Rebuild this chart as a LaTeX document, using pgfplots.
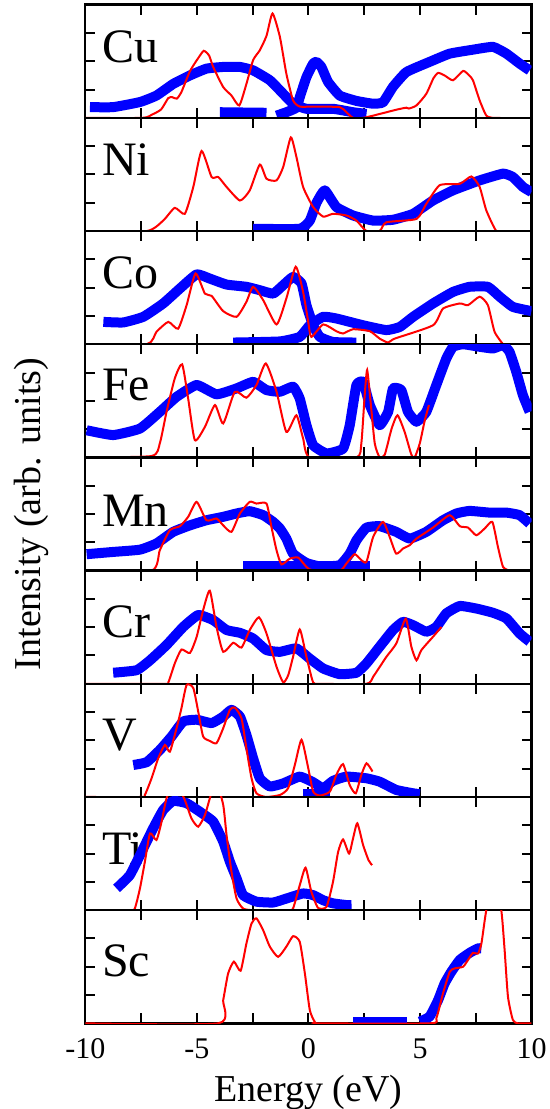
\documentclass[border=0pt]{standalone}
\usepackage{fontspec}
\setmainfont{Liberation Serif}
\usepackage{pgfplots}
\pgfplotsset{compat=1.18}
\usepgfplotslibrary{groupplots}
\tikzset{
 redl/.style={red, line width=1pt, smooth, tension=0.35, mark=none},
 bluel/.style={blue, line width=5pt, mark=none, line join=round, smooth, tension=0.25},
 lab/.style={anchor=base west, inner sep=0pt, font=\fontsize{24}{24}\selectfont},
}
\begin{document}
\begin{tikzpicture}
\begin{groupplot}[
 group style={group name=G, group size=1 by 9, vertical sep=0pt},
 width=223.2pt, height=56.6pt, scale only axis,
 xmin=-10, xmax=10, ymin=0, ymax=4,
 xtick={-10,-5,0,5,10}, minor xtick={-7.5,-2.5,2.5,7.5},
 xticklabels={},
 ytick={1,2,3}, yticklabels={},
 tick align=inside, xtick pos=both, ytick pos=both,
 major tick length=5pt, minor tick length=5pt,
 every tick/.style={black, line width=1pt},
 axis line style={line width=1.2pt},
 tick label style={font=\fontsize{15}{15}\selectfont},
 xticklabel style={yshift=-4pt},
 unbounded coords=jump,
]
% ---------------- Cu
\nextgroupplot
\node[lab] at (rel axis cs:0.037,0.488) {Cu};
\addplot[bluel] coordinates {(-9.79,0.38) (-8.75,0.38) (-7.55,0.56) (-6.81,0.79) (-6.06,1.2) (-5.31,1.5) (-4.57,1.74) (-3.82,1.8) (-3.07,1.8) (-2.48,1.68) (-1.73,1.33) (-1.13,0.85) (-0.69,0.5) (-0.09,0.32) (1.10,0.32) (2.0,0.2) (2.60,0.14)};
\addplot[bluel] coordinates {(-3.97,0.2) (-1.88,0.18) (-1.70,nan) (-1.43,0.08) (-0.99,0.2) (-0.54,0.36) (-0.39,0.73) (-0.09,1.44) (0.21,1.92) (0.36,1.98) (0.58,1.8) (0.88,1.27) (1.40,0.79) (2.15,0.6) (2.90,0.5) (3.34,0.55) (3.79,1.1) (4.39,1.62) (5.43,1.98) (6.33,2.27) (7.37,2.41) (8.27,2.51) (8.87,2.27) (9.46,1.92) (9.91,1.68)};
\addplot[redl] coordinates {(-10,0) (-7.45,0) (-7.0,0.12) (-6.6,0.3) (-6.28,0.7) (-6.1,0.73) (-5.9,0.68) (-5.7,0.9) (-5.31,1.65) (-4.95,2.1) (-4.69,2.37) (-4.45,2.2) (-4.27,1.8) (-3.82,1.09) (-3.45,0.79) (-3.10,0.44) (-2.78,1.2) (-2.48,2.04) (-2.18,2.39) (-1.88,2.9) (-1.61,3.69) (-1.28,2.86) (-0.99,1.56) (-0.69,0.62) (-0.39,0.4) (0.21,0.4) (1.40,0.38) (1.70,0.2) (2.0,0) (2.45,0) (2.90,0.08) (4.0,0.3) (4.39,0.36) (4.5,0.33) (4.84,0.44) (5.28,0.85) (5.6,1.4) (5.81,1.59) (6.1,1.5) (6.48,1.33) (6.93,1.66) (7.2,1.5) (7.37,1.33) (7.67,0.62) (7.97,0.08) (8.27,0) (8.6,0)};
% ---------------- Ni
\nextgroupplot
\node[lab] at (rel axis cs:0.037,0.49) {Ni};
\addplot[bluel] coordinates {(-2.48,0.08) (-0.39,0.08) (0.06,0.37) (0.36,1.0) (0.73,1.44) (1.25,0.85) (2.0,0.55) (2.90,0.37) (3.79,0.4) (4.69,0.61) (5.58,1.08) (6.48,1.44) (7.67,1.79) (8.72,2.03) (9.16,1.91) (9.61,1.56) (9.99,1.38)};
\addplot[redl] coordinates {(-10,0) (-7.25,0) (-6.51,0.37) (-5.99,0.82) (-5.54,0.61) (-5.16,1.56) (-4.79,2.83) (-4.34,1.91) (-4.04,1.91) (-3.67,1.56) (-3.07,1.08) (-2.63,1.44) (-2.18,2.35) (-1.88,1.85) (-1.43,1.79) (-1.13,2.27) (-0.79,3.31) (-0.54,2.62) (-0.24,1.56) (0.21,0.85) (0.66,0.51) (1.10,0.61) (1.70,0.55) (2.15,0.37) (2.60,0) (3.19,0) (3.49,0.31) (4.84,0.43) (5.28,0.96) (5.88,1.62) (6.78,1.67) (7.30,1.93) (7.67,1.56) (7.97,0.73) (8.42,0) (8.87,0)};
% ---------------- Co
\nextgroupplot
\node[lab] at (rel axis cs:0.037,0.496) {Co};
\addplot[bluel] coordinates {(-9.19,0.79) (-8.30,0.77) (-7.40,0.97) (-6.51,1.44) (-5.76,1.97) (-5.01,2.47) (-4.42,2.32) (-3.67,2.11) (-2.78,2.03) (-2.18,1.91) (-1.58,1.79) (-1.13,2.09) (-0.69,2.38) (-0.31,2.15) (-0.09,1.38) (0.21,0.67) (0.51,0.26) (1.10,0.08) (2.15,0.06)};
\addplot[bluel] coordinates {(-3.37,0.06) (-1.28,0.1) (-0.39,0.26) (0.06,0.67) (0.66,0.97) (1.25,0.91) (2.45,0.67) (3.49,0.5) (4.09,0.61) (4.69,0.97) (5.58,1.44) (6.48,1.85) (7.22,2.03) (8.04,2.03) (8.57,1.68) (9.16,1.32) (9.99,1.17)};
\addplot[redl] coordinates {(-10,0) (-7.25,0) (-6.81,0.44) (-6.28,0.79) (-5.84,0.55) (-5.46,1.38) (-5.06,2.5) (-4.64,1.79) (-4.34,1.71) (-3.82,1.17) (-3.22,0.97) (-2.78,1.5) (-2.48,2.03) (-2.03,1.56) (-1.43,0.7) (-0.99,1.62) (-0.57,2.74) (-0.24,1.85) (-0.01,0.79) (0.13,0.26) (0.66,0.7) (1.25,0.46) (1.55,0.38) (2.0,0.53) (2.75,0.46) (3.19,0.2) (3.57,0.06) (3.87,0.2) (5.58,0.67) (6.03,1.26) (6.78,1.44) (7.15,1.38) (7.67,1.68) (8.04,1.38) (8.34,0.44) (8.72,0)};
% ---------------- Fe
\nextgroupplot
\node[lab] at (rel axis cs:0.037,0.505) {Fe};
\addplot[bluel] coordinates {(-9.94,0.96) (-8.75,0.79) (-7.55,1.02) (-6.66,1.61) (-5.91,2.14) (-5.01,2.56) (-4.12,2.23) (-3.22,2.44) (-2.48,2.67) (-1.88,2.38) (-1.28,2.32) (-0.69,2.5) (-0.39,2.08) (-0.09,1.14) (0.21,0.43) (0.81,0.14) (1.55,0.31) (1.85,1.14) (2.15,2.56) (2.45,2.67) (2.75,1.85) (3.19,1.14) (3.57,1.61) (3.79,2.44) (4.16,2.38) (4.46,1.61) (4.84,1.26) (5.28,1.61) (5.73,2.56) (6.18,3.5) (6.48,3.91) (6.93,4.0) (7.67,3.91) (8.27,3.85) (8.72,3.97) (9.01,3.73) (9.31,3.03) (9.61,2.2) (9.91,1.61)};
\addplot[redl] coordinates {(-10,0) (-7.03,0.05) (-6.66,0.5) (-6.36,1.61) (-5.99,2.79) (-5.66,3.29) (-5.39,2.08) (-5.09,0.61) (-4.64,1.08) (-4.19,1.85) (-3.82,1.2) (-3.30,2.32) (-2.78,2.11) (-2.33,2.56) (-1.91,3.32) (-1.43,2.32) (-0.99,0.9) (-0.54,1.49) (-0.24,0.67) (0.06,0) (2.15,0) (2.37,0.5) (2.52,2.2) (2.63,3.09) (2.78,2.0) (2.97,0.5) (3.19,0) (3.42,0.1) (3.72,1.0) (3.99,1.49) (4.31,0.9) (4.61,0.1) (4.76,0) (4.99,0.5) (5.21,1.3) (5.40,1.85)};
% ---------------- Mn
\nextgroupplot[ylabel={Intensity (arb. units)},
 ylabel style={at={(axis description cs:-0.067,0.5)}, anchor=south, font=\fontsize{19}{19}\selectfont}]
\node[lab] at (rel axis cs:0.037,0.39) {Mn};
\addplot[bluel] coordinates {(-2.93,0.15) (2.75,0.15)};
\addplot[bluel] coordinates {(-9.94,0.58) (-8.75,0.66) (-7.55,0.74) (-6.81,0.96) (-6.06,1.37) (-5.31,1.6) (-4.57,1.78) (-3.82,1.9) (-3.22,2.02) (-2.63,2.1) (-2.03,1.96) (-1.58,1.72) (-1.28,1.49) (-0.99,1.13) (-0.69,0.6) (-0.09,0.27) (0.51,0.15) (1.40,0.19) (1.85,0.6) (2.15,1.07) (2.60,1.52) (3.19,1.57) (3.93,1.37) (4.54,1.13) (5.28,1.37) (6.03,1.78) (6.63,2.02) (7.22,2.11) (8.12,2.05) (8.87,2.05) (9.46,1.96) (9.91,1.66)};
\addplot[redl] coordinates {(-10,0) (-7.03,0) (-6.66,0.72) (-6.21,1.43) (-5.76,1.57) (-5.39,1.9) (-5.01,2.43) (-4.57,1.78) (-4.12,1.84) (-3.82,1.6) (-3.45,1.37) (-3.07,2.02) (-2.63,2.43) (-2.33,2.37) (-1.88,2.37) (-1.66,1.55) (-1.43,0.72) (-1.21,0.22) (-0.84,0.42) (-0.46,0.46) (-0.09,0.13) (0.21,0) (1.40,0) (1.70,0.25) (2.07,0.58) (2.37,0.37) (2.60,0.31) (2.90,1.19) (3.34,1.72) (3.64,1.19) (3.93,0.6) (4.24,0.78) (4.54,0.9) (4.84,1.13) (5.58,1.52) (6.33,1.96) (6.78,1.57) (7.15,1.52) (7.52,1.25) (7.90,1.49) (8.24,1.72) (8.49,0.84) (8.72,0.13) (9.01,0)};
% ---------------- Cr
\nextgroupplot
\node[lab] at (rel axis cs:0.037,0.41) {Cr};
\addplot[bluel] coordinates {(-8.75,0.39) (-7.70,0.48) (-7.10,0.83) (-6.36,1.37) (-5.61,2.01) (-4.94,2.43) (-4.27,2.25) (-3.67,1.9) (-3.07,1.8) (-2.48,1.6) (-1.88,1.19) (-1.28,1.13) (-0.54,1.25) (0.06,0.89) (0.66,0.54) (1.40,0.34) (2.15,0.39) (2.60,0.72) (3.19,1.31) (3.79,1.9) (4.24,2.19) (4.69,2.07) (5.28,1.84) (5.73,2.01) (6.18,2.49) (6.78,2.75) (7.52,2.66) (8.27,2.51) (8.87,2.31) (9.46,1.78) (9.91,1.49)};
\addplot[redl] coordinates {(-10,0) (-6.5,0) (-6.28,0.05) (-5.99,0.72) (-5.69,1.21) (-5.31,1.09) (-5.01,1.66) (-4.72,2.6) (-4.42,3.29) (-4.12,2.01) (-3.82,1.13) (-3.37,1.45) (-3.0,1.28) (-2.63,1.9) (-2.22,2.35) (-1.88,1.78) (-1.43,0.6) (-1.13,0.05) (-0.91,0.3) (-0.69,0.95) (-0.39,1.92) (-0.09,0.95) (0.21,0.05) (0.51,0) (2.60,0) (2.90,0.25) (3.49,0.95) (3.94,1.43) (4.36,2.3) (4.61,1.31) (4.84,0.83) (5.06,1.19) (5.58,1.66) (5.96,2.01)};
% ---------------- V
\nextgroupplot
\node[lab] at (rel axis cs:0.037,0.41) {V};
\addplot[bluel] coordinates {(-0.24,0.12) (0.96,0.12)};
\addplot[bluel] coordinates {(-7.85,1.13) (-7.25,1.23) (-6.66,1.66) (-6.13,2.14) (-5.61,2.67) (-5.01,2.73) (-4.34,2.61) (-3.82,2.84) (-3.45,3.08) (-3.07,2.84) (-2.78,2.19) (-2.48,1.37) (-2.18,0.66) (-1.73,0.37) (-1.13,0.48) (-0.39,0.72) (0.21,0.52) (0.66,0.31) (1.10,0.57) (1.70,0.72) (2.60,0.66) (3.19,0.54) (3.93,0.25) (4.69,0.13) (4.99,0.1)};
\addplot[redl] coordinates {(-10,0) (-7.5,0) (-7.33,0.07) (-7.03,0.66) (-6.73,1.37) (-6.43,1.84) (-6.21,1.6) (-5.91,2.43) (-5.69,3.14) (-5.46,3.96) (-5.16,3.85) (-4.94,3.02) (-4.72,2.14) (-4.42,1.98) (-4.12,1.9) (-3.82,2.43) (-3.52,3.08) (-3.30,3.16) (-3.0,2.78) (-2.78,1.72) (-2.55,0.66) (-2.33,0.13) (-1.9,0) (-1.28,0.07) (-0.91,0.31) (-0.61,1.13) (-0.31,2.02) (-0.01,1.02) (0.21,0.19) (0.51,0.05) (0.96,0.19) (1.25,0.78) (1.55,1.16) (1.85,0.42) (2.12,0.13) (2.37,0.78) (2.60,1.19) (2.87,0.9)};
% ---------------- Ti
\nextgroupplot
\node[lab] at (rel axis cs:0.037,0.40) {Ti};
\addplot[bluel] coordinates {(-8.60,0.77) (-8.0,1.24) (-7.40,2.18) (-6.96,2.89) (-6.51,3.54) (-6.06,3.86) (-5.46,3.78) (-4.87,3.48) (-4.27,3.13) (-3.82,2.42) (-3.52,1.71) (-3.22,1.12) (-2.93,0.53) (-2.33,0.3) (-1.58,0.27) (-0.99,0.41) (-0.24,0.59) (0.21,0.53) (0.66,0.35) (1.10,0.24) (1.70,0.18) (1.93,0.18)};
\addplot[redl] coordinates {(-10,0) (-8.0,0) (-7.78,0.06) (-7.55,0.77) (-7.33,1.71) (-7.10,2.71) (-6.81,2.48) (-6.58,3.13) (-6.36,3.95) (-5.99,4.6) (-5.54,3.89) (-5.24,3.24) (-4.94,2.95) (-4.64,3.36) (-4.42,3.95) (-4.15,4.6) (-3.82,3.72) (-3.67,2.65) (-3.45,1.36) (-3.22,0.41) (-2.93,0.06) (-2.5,0) (-0.9,0) (-0.69,0.06) (-0.39,0.88) (-0.13,1.5) (0.13,0.65) (0.43,0.08) (0.81,0.12) (1.10,1.0) (1.33,2.06) (1.55,2.5) (1.82,2.0) (2.0,2.54) (2.19,3.07) (2.45,2.3) (2.69,1.77) (2.85,1.59)};
% ---------------- Sc
\nextgroupplot[xticklabels={-10,-5,0,5,10},
 xlabel={Energy (eV)},
 xlabel style={at={(axis description cs:0.5,0)}, anchor=base, yshift=-38.85pt, font=\fontsize{19}{19}\selectfont}]
\node[lab] at (rel axis cs:0.037,0.41) {Sc};
\addplot[bluel] coordinates {(2.0,0.03) (4.39,0.03)};
\addplot[bluel] coordinates {(4.99,0.06) (5.43,0.24) (5.81,0.82) (6.10,1.41) (6.40,1.82) (6.78,2.24) (7.22,2.49) (7.60,2.65) (7.75,2.65)};
\addplot[redl] coordinates {(-10,0) (-4.04,0) (-3.82,0.82) (-3.60,1.76) (-3.34,2.18) (-3.04,1.86) (-2.78,2.82) (-2.55,3.53) (-2.33,3.71) (-2.03,3.29) (-1.73,2.71) (-1.36,2.35) (-0.99,2.71) (-0.69,3.08) (-0.39,2.88) (-0.16,1.76) (0.06,0.47) (0.28,0.06) (0.51,0) (5.43,0) (5.73,0.18) (6.03,1.06) (6.33,1.82) (6.55,1.94) (6.93,2.0) (7.15,2.24) (7.37,2.49) (7.60,2.47) (7.75,2.82) (7.90,3.65) (8.04,4.3) (8.34,4.8) (8.64,4.0) (8.79,2.59) (8.94,0.94) (9.16,0.12) (9.39,0) (9.99,0)};
\end{groupplot}
\pgfresetboundingbox
\path ([xshift=-42.65pt,yshift=2.35pt]G c1r1.north west) rectangle ([xshift=9.15pt,yshift=-42.85pt]G c1r9.south east);
\end{tikzpicture}
\end{document}
